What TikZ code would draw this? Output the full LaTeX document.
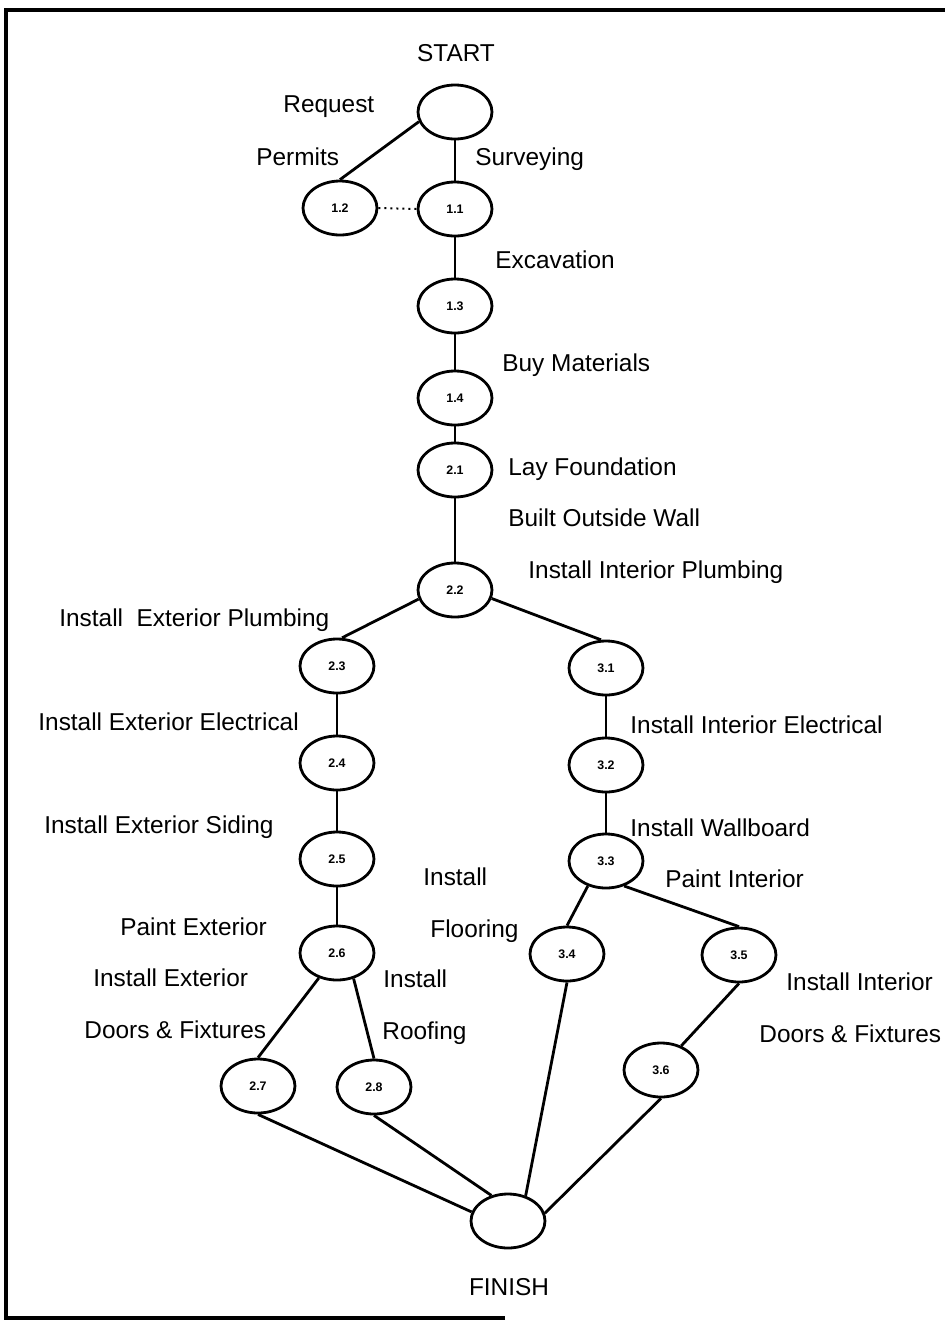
\documentclass[tikz,border=0pt]{standalone}
\usepackage{fontspec}
\setmainfont{Liberation Sans}
\usetikzlibrary{shapes.geometric}
\begin{document}
\begin{tikzpicture}[x=0.5pt,y=-0.5pt,
  event/.style={ellipse,draw,line width=1.4pt,minimum width=37pt,minimum height=27pt,
    inner sep=0pt,font=\fontsize{6.2}{7}\selectfont\bfseries},
  link/.style={line width=1.4pt},
  lbl/.style={anchor=base west,inner sep=0pt,font=\fontsize{12.2}{14}\selectfont},
  clbl/.style={anchor=base,inner sep=0pt,font=\fontsize{12.2}{14}\selectfont},
  frame/.style={line width=1.6pt}]
\useasboundingbox (0,0) rectangle (945,1324);

% border
\coordinate (fa) at (6,1318);
\coordinate (fb) at (6,10);
\coordinate (fc) at (945,10);
\coordinate (fd) at (505,1318);
\draw[frame] (fd) -- (fa) -- (fb) -- (fc);

% events
\node[event] (s)   at (455,112)  {};
\node[event] (n12) at (340,208)  {1.2};
\node[event] (n11) at (455,209)  {1.1};
\node[event] (n13) at (455,306)  {1.3};
\node[event] (n14) at (455,398)  {1.4};
\node[event] (n21) at (455,470)  {2.1};
\node[event] (n22) at (455,590)  {2.2};
\node[event] (n23) at (337,666)  {2.3};
\node[event] (n24) at (337,763)  {2.4};
\node[event] (n25) at (337,859)  {2.5};
\node[event] (n26) at (337,953)  {2.6};
\node[event] (n27) at (258,1086) {2.7};
\node[event] (n28) at (374,1087) {2.8};
\node[event] (n31) at (606,668)  {3.1};
\node[event] (n32) at (606,765)  {3.2};
\node[event] (n33) at (606,861)  {3.3};
\node[event] (n34) at (567,954)  {3.4};
\node[event] (n35) at (739,955)  {3.5};
\node[event] (n36) at (661,1070) {3.6};
\node[event] (f)   at (508,1221) {};

% activities
\draw[link] (s.195) -- (n12.north);
\draw[link] (s.south) -- (n11.north);
\draw[line width=1pt,dotted] (n12.east) -- (n11.west);
\draw[link] (n11.south) -- (n13.north);
\draw[link] (n13.south) -- (n14.north);
\draw[link] (n14.south) -- (n21.north);
\draw[link] (n21.south) -- (n22.north);
\draw[link] (n22.194) -- (n23.80);
\draw[link] (n22.347) -- (n31.100);
\draw[link] (n23.south) -- (n24.north);
\draw[link] (n24.south) -- (n25.north);
\draw[link] (n25.south) -- (n26.north);
\draw[link] (n26.234) -- (n27.north);
\draw[link] (n26.303) -- (n28.north);
\draw[link] (n31.south) -- (n32.north);
\draw[link] (n32.south) -- (n33.north);
\draw[link] (n33.234) -- (n34.north);
\draw[link] (n33.306) -- (n35.north);
\draw[link] (n35.south) -- (n36.50);
\draw[link] (n27.south) -- (f.166);
\draw[link] (n28.south) -- (f.123);
\draw[link] (n34.south) -- (f.55);
\draw[link] (n36.south) -- (f.12);

% labels
\node[clbl] (tstart)  at (456,61)   {START};
\node[clbl] (tfinish) at (509,1295) {FINISH};
\node[lbl] (t1)  at (283,112)  {Request};
\node[lbl] (t2)  at (256,165)  {Permits};
\node[lbl] (t3)  at (475,165)  {Surveying};
\node[lbl] (t4)  at (495,268)  {Excavation};
\node[lbl] (t5)  at (502,371)  {Buy Materials};
\node[lbl] (t6)  at (508,475)  {Lay Foundation};
\node[lbl] (t7)  at (508,526)  {Built Outside Wall};
\node[lbl] (t8)  at (528,578)  {Install Interior Plumbing};
\node[lbl] (t9)  at (59,626)   {Install\ \ Exterior Plumbing};
\node[lbl] (t10) at (38,730)   {Install Exterior Electrical};
\node[lbl] (t11) at (630,733)  {Install Interior Electrical};
\node[lbl] (t12) at (44,833)   {Install Exterior Siding};
\node[lbl] (t13) at (630,836)  {Install Wallboard};
\node[lbl] (t14) at (423,885)  {Install};
\node[lbl] (t15) at (665,887)  {Paint Interior};
\node[lbl] (t16) at (120,935)  {Paint Exterior};
\node[lbl] (t17) at (430,937)  {Flooring};
\node[lbl] (t18) at (93,986)   {Install Exterior};
\node[lbl] (t19) at (383,987)  {Install};
\node[lbl] (t20) at (786,990)  {Install Interior};
\node[lbl] (t21) at (84,1038)  {Doors \& Fixtures};
\node[lbl] (t22) at (382,1039) {Roofing};
\node[lbl] (t23) at (759,1042) {Doors \& Fixtures};
\end{tikzpicture}
\end{document}
